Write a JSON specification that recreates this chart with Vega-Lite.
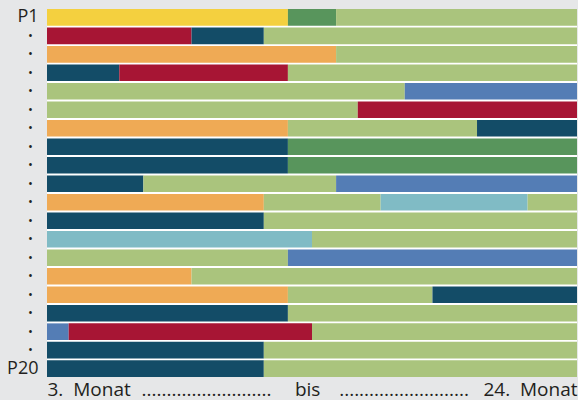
{
  "$schema": "https://vega.github.io/schema/vega-lite/v6.json",
  "width": 530,
  "height": 368,
  "autosize": {"type": "none"},
  "padding": {"left": 47, "top": 9, "right": 1, "bottom": 23},
  "background": "#e6e7e8",
  "config": {"view": {"fill": "#ffffff", "stroke": null}},
  "data": {
    "values": [
      {"row": "1", "start": 2, "end": 12, "phase": "gelb"},
      {"row": "1", "start": 12, "end": 14, "phase": "dunkelgrün"},
      {"row": "1", "start": 14, "end": 24, "phase": "hellgrün"},
      {"row": "2", "start": 2, "end": 8, "phase": "rot"},
      {"row": "2", "start": 8, "end": 11, "phase": "dunkelblau"},
      {"row": "2", "start": 11, "end": 24, "phase": "hellgrün"},
      {"row": "3", "start": 2, "end": 14, "phase": "orange"},
      {"row": "3", "start": 14, "end": 24, "phase": "hellgrün"},
      {"row": "4", "start": 2, "end": 5, "phase": "dunkelblau"},
      {"row": "4", "start": 5, "end": 12, "phase": "rot"},
      {"row": "4", "start": 12, "end": 24, "phase": "hellgrün"},
      {"row": "5", "start": 2, "end": 16.85, "phase": "hellgrün"},
      {"row": "5", "start": 16.85, "end": 24, "phase": "blau"},
      {"row": "6", "start": 2, "end": 14.9, "phase": "hellgrün"},
      {"row": "6", "start": 14.9, "end": 24, "phase": "rot"},
      {"row": "7", "start": 2, "end": 12, "phase": "orange"},
      {"row": "7", "start": 12, "end": 19.85, "phase": "hellgrün"},
      {"row": "7", "start": 19.85, "end": 24, "phase": "dunkelblau"},
      {"row": "8", "start": 2, "end": 12, "phase": "dunkelblau"},
      {"row": "8", "start": 12, "end": 24, "phase": "dunkelgrün"},
      {"row": "9", "start": 2, "end": 12, "phase": "dunkelblau"},
      {"row": "9", "start": 12, "end": 24, "phase": "dunkelgrün"},
      {"row": "10", "start": 2, "end": 6, "phase": "dunkelblau"},
      {"row": "10", "start": 6, "end": 14, "phase": "hellgrün"},
      {"row": "10", "start": 14, "end": 24, "phase": "blau"},
      {"row": "11", "start": 2, "end": 11, "phase": "orange"},
      {"row": "11", "start": 11, "end": 15.85, "phase": "hellgrün"},
      {"row": "11", "start": 15.85, "end": 21.95, "phase": "türkis"},
      {"row": "11", "start": 21.95, "end": 24, "phase": "hellgrün"},
      {"row": "12", "start": 2, "end": 11, "phase": "dunkelblau"},
      {"row": "12", "start": 11, "end": 24, "phase": "hellgrün"},
      {"row": "13", "start": 2, "end": 13, "phase": "türkis"},
      {"row": "13", "start": 13, "end": 24, "phase": "hellgrün"},
      {"row": "14", "start": 2, "end": 12, "phase": "hellgrün"},
      {"row": "14", "start": 12, "end": 24, "phase": "blau"},
      {"row": "15", "start": 2, "end": 8, "phase": "orange"},
      {"row": "15", "start": 8, "end": 24, "phase": "hellgrün"},
      {"row": "16", "start": 2, "end": 12, "phase": "orange"},
      {"row": "16", "start": 12, "end": 18, "phase": "hellgrün"},
      {"row": "16", "start": 18, "end": 24, "phase": "dunkelblau"},
      {"row": "17", "start": 2, "end": 12, "phase": "dunkelblau"},
      {"row": "17", "start": 12, "end": 24, "phase": "hellgrün"},
      {"row": "18", "start": 2, "end": 2.9, "phase": "blau"},
      {"row": "18", "start": 2.9, "end": 13, "phase": "rot"},
      {"row": "18", "start": 13, "end": 24, "phase": "hellgrün"},
      {"row": "19", "start": 2, "end": 11, "phase": "dunkelblau"},
      {"row": "19", "start": 11, "end": 24, "phase": "hellgrün"},
      {"row": "20", "start": 2, "end": 11, "phase": "dunkelblau"},
      {"row": "20", "start": 11, "end": 24, "phase": "hellgrün"}
    ]
  },
  "mark": {"type": "bar", "cornerRadius": 0},
  "encoding": {
    "y": {
      "field": "row",
      "type": "nominal",
      "sort": ["1","2","3","4","5","6","7","8","9","10","11","12","13","14","15","16","17","18","19","20"],
      "scale": {"paddingInner": 0.1, "paddingOuter": 0},
      "axis": {
        "title": null,
        "ticks": false,
        "domain": false,
        "labelPadding": {"condition": {"test": "datum.value == '1' || datum.value == '20'", "value": 9}, "value": 17},
        "labelAlign": {"condition": {"test": "datum.value == '1' || datum.value == '20'", "value": "right"}, "value": "center"},
        "labelFont": "Open Sans",
        "labelFontSize": {"condition": {"test": "datum.value == '1' || datum.value == '20'", "value": 18}, "value": 13},
        "labelColor": "#231f20",
        "labelExpr": "datum.value == '1' ? 'P1' : datum.value == '20' ? 'P20' : '•'"
      }
    },
    "x": {
      "field": "start",
      "type": "quantitative",
      "scale": {"domain": [2, 24], "nice": false, "zero": false},
      "axis": {
        "title": null,
        "grid": false,
        "ticks": false,
        "tickSize": 0,
        "domain": false,
        "values": [2, 8.6, 12.8, 16.8, 24],
        "labelFlush": true,
        "labelOverlap": false,
        "labelPadding": 3,
        "labelFont": "Open Sans",
        "labelFontSize": 19,
        "labelColor": "#231f20",
        "labelExpr": "datum.value == 2 ? '3.\u00a0 Monat' : datum.value == 24 ? '24.\u00a0 Monat' : datum.value == 12.8 ? 'bis' : '..........................'"
      }
    },
    "x2": {"field": "end"},
    "color": {
      "field": "phase",
      "type": "nominal",
      "legend": null,
      "scale": {
        "domain": ["gelb", "dunkelgrün", "hellgrün", "rot", "dunkelblau", "orange", "blau", "türkis"],
        "range": ["#f4d03f", "#58955c", "#aac47d", "#a71534", "#134c67", "#efaa55", "#547db5", "#80bbc5"]
      }
    }
  }
}
